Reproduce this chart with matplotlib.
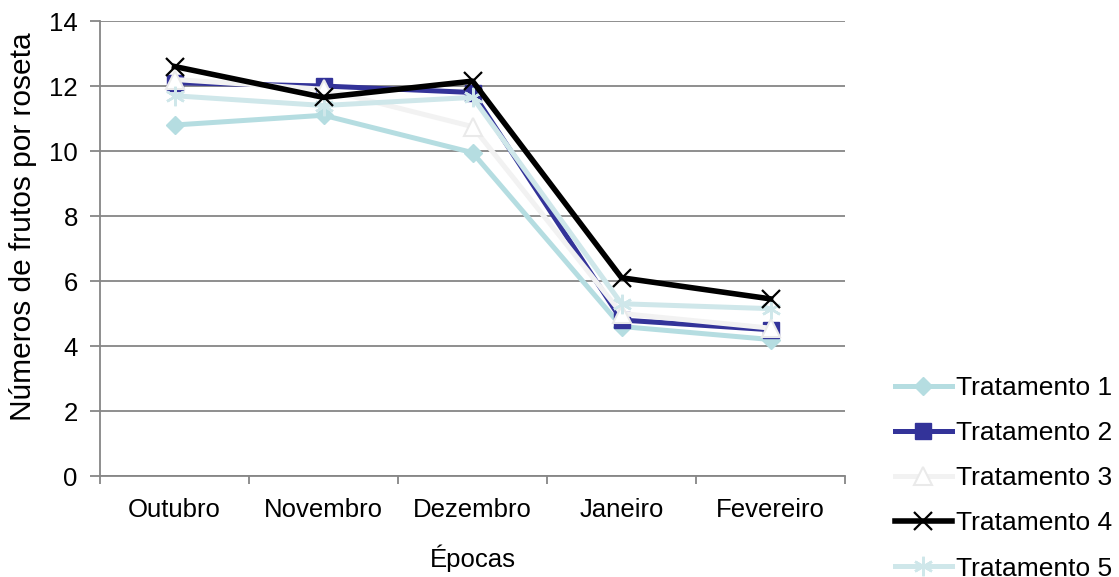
import matplotlib.pyplot as plt
from matplotlib.ticker import FixedLocator

plt.rcParams['font.family'] = ['Liberation Sans', 'DejaVu Sans']

epocas = ['Outubro', 'Novembro', 'Dezembro', 'Janeiro', 'Fevereiro']
trat1 = [10.8, 11.1, 9.95, 4.6, 4.2]
trat2 = [12.1, 12.0, 11.8, 4.8, 4.5]
trat3 = [12.2, 11.9, 10.75, 5.0, 4.55]
trat4 = [12.6, 11.65, 12.15, 6.1, 5.45]
trat5 = [11.7, 11.4, 11.65, 5.3, 5.15]
nomes = ['Tratamento 1', 'Tratamento 2', 'Tratamento 3', 'Tratamento 4', 'Tratamento 5']

estilos = [
    dict(color='#B5DDE1', marker='D', markersize=9.5, lw=3.6),
    dict(color='#333399', marker='s', markersize=12, lw=3.6),
    dict(color='#F2F2F2', marker='^', markersize=13, lw=3.6, mfc='white', mec='#EAEAEA', mew=1.5),
    dict(color='black', marker='x', markersize=13.5, mew=1.6, lw=4),
    dict(color='#CFE7EA', marker=(6, 2, 0), markersize=14, mew=1.8, lw=3.6),
]
ordem = [1, 2, 3, 5, 4]

fig = plt.figure(figsize=(11.19, 5.77), dpi=100)
ax = fig.add_axes([0.0894, 0.175, 0.6658, 0.7886])

x = range(len(epocas))
for serie, nome, est, z in zip([trat1, trat2, trat3, trat4, trat5], nomes, estilos, ordem):
    ax.plot(x, serie, label=nome, zorder=2 + z, **est)

ax.set_xlim(-0.5, len(epocas) - 0.5)
ax.set_ylim(0, 14)
ax.set_yticks(range(0, 15, 2))
ax.set_xticks(list(x))
ax.set_xticklabels(epocas, fontsize=18.5)
ax.xaxis.set_minor_locator(FixedLocator([i - 0.5 for i in range(len(epocas) + 1)]))
ax.tick_params(axis='x', which='major', length=0, pad=16)
ax.tick_params(axis='x', which='minor', length=6, color='#868686', width=1.3)
ax.tick_params(axis='y', length=7, color='#868686', width=1.3, labelsize=18.5, pad=9)

ax.grid(axis='y', color='#868686', lw=1.3)
ax.set_axisbelow(True)
for lado in ['top', 'right']:
    ax.spines[lado].set_visible(False)
for lado in ['left', 'bottom']:
    ax.spines[lado].set_color('#868686')
    ax.spines[lado].set_linewidth(1.3)

ax.set_xlabel('Épocas', fontsize=18.5, labelpad=16)
ax.set_ylabel('Números de frutos por roseta', fontsize=21.5)
ax.yaxis.set_label_coords(-0.084, 0.548)

ax.legend(loc='center left', bbox_to_anchor=(895 / 1119, 0.171), bbox_transform=fig.transFigure,
          frameon=False, fontsize=19, handlelength=2.15, handletextpad=0.15,
          labelspacing=0.8, borderaxespad=0, borderpad=0)

fig.savefig('out.png', dpi=100)
